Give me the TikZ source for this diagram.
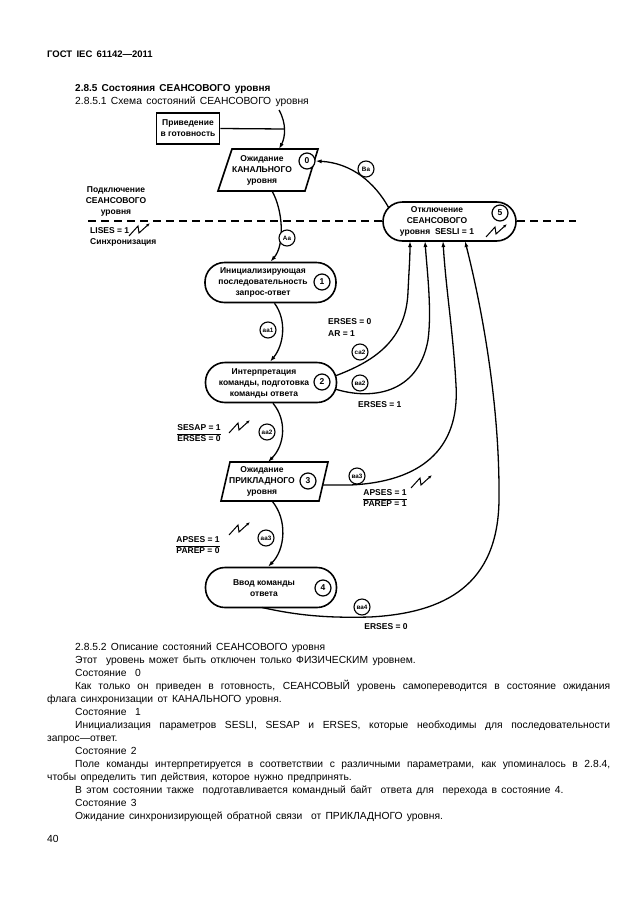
\documentclass[tikz,border=0pt]{standalone}
\usepackage{fontspec}
\setmainfont{Liberation Sans}
\usetikzlibrary{arrows.meta}
\setlength{\arrayrulewidth}{0.9pt}
\newcommand\bodyspace{\spaceskip=4.3pt plus 3pt minus 1pt\relax}
\begin{document}
\begin{tikzpicture}[x=1pt,y=-1pt,
  dtext/.style={font=\fontsize{8.5}{11}\selectfont\bfseries, align=center, inner sep=0pt},
  pill/.style={draw, line width=1.6pt, rounded corners=19.5pt, fill=white, minimum width=131pt, minimum height=40pt, inner sep=0pt},
  para/.style={draw, line width=1.6pt, fill=white, line join=miter},
  num/.style={circle, draw, line width=1.2pt, fill=white, minimum size=16pt, inner sep=0pt, font=\fontsize{8.5}{8.5}\selectfont\bfseries},
  tlab/.style={circle, draw, line width=1.1pt, fill=white, minimum size=16pt, inner sep=0pt, font=\fontsize{6.3}{6.3}\selectfont\bfseries},
  conn/.style={line width=1.3pt, -{Latex[length=6pt,width=4pt]}},
  plain/.style={line width=1.3pt},
  dashline/.style={line width=1.4pt, dash pattern=on 8pt off 5pt},
  body/.style={font=\fontsize{10.3}{12}\selectfont, execute at begin node=\bodyspace, anchor=base west, inner sep=0pt},
  zapsym/.pic={\draw[line width=1pt, -{Latex[length=4pt,width=3pt]}] (0,0) -- (9,-10) -- (10,-3) -- (21,-13);}
]
\useasboundingbox (0,0) rectangle (630,913);
\fill[white] (0,0) rectangle (630,913);

% headers
\node[body, font=\fontsize{9.5}{11}\selectfont\bfseries] (hdr) at (47,57) {ГОСТ IEC 61142—2011};
\node[body, font=\fontsize{10}{12}\selectfont\bfseries] (h1) at (75,91) {2.8.5 Состояния СЕАНСОВОГО уровня};
\node[body] (h2) at (75,104) {2.8.5.1 Схема состояний СЕАНСОВОГО уровня};

% dashed line
\coordinate (dl) at (88,221);
\coordinate (dr) at (576,221);
\draw[dashline] (dl) -- (dr);

% left labels
\node[dtext] (conn) at (116,201) {Подключение\\СЕАНСОВОГО\\уровня};
\node[dtext, anchor=west] (lises) at (90,231) {LISES = 1};
\pic at (129,236) {zapsym};
\node[dtext, anchor=west] (sync) at (90,242) {Синхронизация};

% box
\node[draw, line width=1.6pt, minimum width=63pt, minimum height=31pt, dtext] (B) at (188,128.5) {Приведение\\в готовность};
\coordinate (topin) at (279,110);
\coordinate (join) at (284.3,129);
\coordinate (p0top) at (279,149);
\draw[conn] (topin) .. controls (287,124) and (285,138) .. (p0top);
\draw[plain] (B.east) -- (join);

% state 0 parallelogram
\coordinate (p0a) at (232,149);
\coordinate (p0b) at (318,149);
\coordinate (p0c) at (305,191);
\coordinate (p0d) at (218,191);
\draw[para] (p0a) -- (p0b) -- (p0c) -- (p0d) -- cycle;
\node[dtext] (s0t) at (262,170) {Ожидание\\КАНАЛЬНОГО\\уровня};
\node[num] (n0) at (307,161) {0};

% state 5
\node[pill, minimum width=133pt, minimum height=39pt] (s5) at (449.5,221.5) {};
\node[dtext] (s5t) at (437,221) {Отключение\\СЕАНСОВОГО\\уровня\ \ SESLI = 1};
\pic at (486,237) {zapsym};
\node[num] (n5) at (500,213) {5};

% state 1, 2, 4
\node[pill] (s1) at (270.5,282.5) {};
\node[dtext] (s1t) at (263,282.5) {Инициализирующая\\последовательность\\запрос-ответ};
\node[num] (n1) at (322,282) {1};

\node[pill] (s2) at (271,382.5) {};
\node[dtext] (s2t) at (264,383) {Интерпретация\\команды, подготовка\\команды ответа};
\node[num] (n2) at (322,382) {2};

\node[pill] (s4) at (271,587.5) {};
\node[dtext] (s4t) at (264,588) {Ввод команды\\ответа};
\node[num] (n4) at (323,588) {4};

% state 3 parallelogram
\coordinate (p3a) at (230,462);
\coordinate (p3b) at (328,462);
\coordinate (p3c) at (319,501);
\coordinate (p3d) at (221,501);
\draw[para] (p3a) -- (p3b) -- (p3c) -- (p3d) -- cycle;
\node[dtext] (s3t) at (262,481) {Ожидание\\ПРИКЛАДНОГО\\уровня};
\node[num] (n3) at (308,481) {3};

% connector points
\coordinate (s5a) at (388.7,207.7);
\coordinate (p0bot) at (272,191);
\coordinate (p3top) at (268,462);
\coordinate (p3bot) at (272,501);
\coordinate (p3r) at (322.7,485);
\coordinate (c3a) at (350,485);
\coordinate (s2u) at (335,376);
\coordinate (s2d) at (335,389);
\coordinate (s4b) at (262,607.5);
\coordinate (s5b1) at (410,241);
\coordinate (s5b2) at (425,241);
\coordinate (s5b3) at (443,241);
\coordinate (s5b4) at (465,241);

% connectors
\draw[conn] (s5a) .. controls (375,183) and (352,163) .. (n0.east);
\draw[conn] (p0bot) .. controls (283,210) and (285,245) .. (s1.north);
\draw[conn] ([xshift=4pt]s1.south) .. controls (287,320) and (284,345) .. ([xshift=-1pt]s2.north);
\draw[conn] ([xshift=2pt]s2.south) .. controls (287,420) and (285,445) .. (p3top);
\draw[conn] (p3bot) .. controls (288,520) and (285,550) .. ([xshift=-3pt]s4.north);
\draw[conn] (s2u) .. controls (372,362) and (406,342) .. (408,292) .. controls (409,270) and (410,258) .. (s5b1);
\draw[conn] (s2d) .. controls (370,400) and (418,395) .. (428,340) .. controls (432,310) and (427,270) .. (s5b2);
\draw[conn] (p3r) -- (c3a) .. controls (420,482) and (460,450) .. (456,385) .. controls (453,330) and (446,290) .. (s5b3);
\draw[conn] (s4b) .. controls (300,616) and (330,618) .. (370,617) .. controls (445,613) and (498,585) .. (499,500) .. controls (500,400) and (480,300) .. (s5b4);

% transition labels
\node[tlab] (tBa) at (366,169) {Ва};
\node[tlab] (tAa) at (287,238) {Аа};
\node[tlab] (taa1) at (268,330) {аа1};
\node[tlab] (tca2) at (360,352) {са2};
\node[tlab] (tva2) at (360,383) {ва2};
\node[tlab] (taa2) at (267,432) {аа2};
\node[tlab] (tva3) at (357,476) {ва3};
\node[tlab] (taa3) at (266,538) {аа3};
\node[tlab] (tva4) at (362,607) {ва4};

% condition labels
\node[dtext, anchor=west] (e0) at (328,322) {ERSES = 0};
\node[dtext, anchor=west] (ar) at (328,334) {AR = 1};
\node[dtext, anchor=west] (e1) at (358,405) {ERSES = 1};
\node[dtext] (f1) at (199,434) {\renewcommand\arraystretch{0.95}\begin{tabular}{@{}c@{}}SESAP = 1\\\hline ERSES = 0\end{tabular}};
\pic at (229,433) {zapsym};
\node[dtext] (f2) at (385,499) {\renewcommand\arraystretch{0.95}\begin{tabular}{@{}c@{}}APSES = 1\\\hline PAREP = 1\end{tabular}};
\pic at (411,488) {zapsym};
\node[dtext] (f3) at (198,546) {\renewcommand\arraystretch{0.95}\begin{tabular}{@{}c@{}}APSES = 1\\\hline PAREP = 0\end{tabular}};
\pic at (229,535) {zapsym};
\node[dtext] (e0b) at (386,627) {ERSES = 0};

% body text
\node[body] (b1) at (75,650) {2.8.5.2 Описание состояний СЕАНСОВОГО уровня};
\node[body] (b2) at (75,663) {Этот \ уровень может быть отключен только ФИЗИЧЕСКИМ уровнем.};
\node[body] (b3) at (75,676) {Состояние \ 0};
\node[body] (b4) at (75,689) {\makebox[535pt][s]{Как только он приведен в готовность, СЕАНСОВЫЙ уровень самопереводится в состояние ожидания}};
\node[body] (b5) at (47,702) {флага синхронизации от КАНАЛЬНОГО уровня.};
\node[body] (b6) at (75,715) {Состояние \ 1};
\node[body] (b7) at (75,728) {\makebox[535pt][s]{Инициализация параметров SESLI, SESAP и ERSES, которые необходимы для последовательности}};
\node[body] (b8) at (47,741) {запрос—ответ.};
\node[body] (b9) at (75,754) {Состояние 2};
\node[body] (b10) at (75,767) {\makebox[535pt][s]{Поле команды интерпретируется в соответствии с различными параметрами, как упоминалось в 2.8.4,}};
\node[body] (b11) at (47,780) {чтобы определить тип действия, которое нужно предпринять.};
\node[body] (b12) at (75,793) {В этом состоянии также \ подготавливается командный байт \ ответа для \ перехода в состояние 4.};
\node[body] (b13) at (75,806) {Состояние 3};
\node[body] (b14) at (75,819) {Ожидание синхронизирующей обратной связи \ от ПРИКЛАДНОГО уровня.};
\node[body] (pg) at (47,842) {40};
\end{tikzpicture}
\end{document}
